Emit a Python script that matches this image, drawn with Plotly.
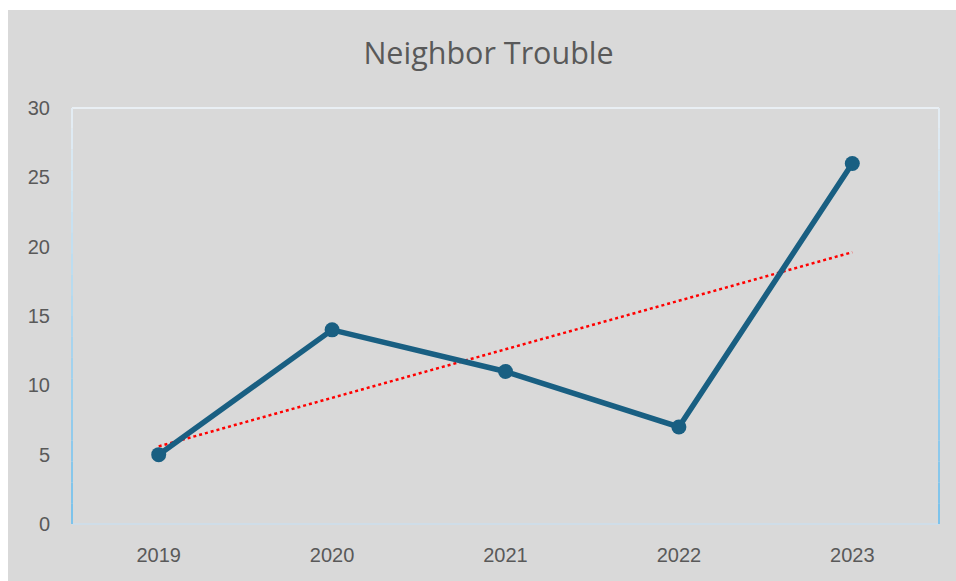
import plotly.graph_objects as go

years = ["2019", "2020", "2021", "2022", "2023"]
values = [5, 14, 11, 7, 26]
y_ticks = [0, 5, 10, 15, 20, 25, 30]

# linear trendline from the data
n = len(values)
xs = list(range(n))
mx = sum(xs) / n
my = sum(values) / n
slope = sum((x - mx) * (y - my) for x, y in zip(xs, values)) / sum((x - mx) ** 2 for x in xs)
icpt = my - slope * mx
trend = [icpt + slope * x for x in xs]

fig = go.Figure()
fig.add_trace(go.Scatter(x=years, y=trend, mode="lines",
                         line=dict(color="#ff0000", width=2.5, dash="dot"),
                         hoverinfo="skip", showlegend=False))
fig.add_trace(go.Scatter(x=years, y=values, mode="lines+markers",
                         line=dict(color="#195f82", width=5.5),
                         marker=dict(size=15, color="#195f82"),
                         showlegend=False))

L, R, T, B = 72, 17, 108, 57
W, H = 956, 581
pw, ph = W - L - R, H - T - B
def px(x):
    return (x - L) / pw
def py(y):
    return (H - B - y) / ph

shapes = [
    dict(type="rect", xref="paper", yref="paper", x0=px(8), x1=px(960), y0=py(600), y1=py(10),
         fillcolor="#d9d9d9", line=dict(width=0), layer="below"),
    dict(type="line", xref="paper", yref="paper", x0=0, x1=1, y0=1, y1=1,
         line=dict(color="#e9eff4", width=2), layer="below"),
    dict(type="line", xref="paper", yref="paper", x0=0, x1=1, y0=0, y1=0,
         line=dict(color="#cfdde8", width=2), layer="below"),
]
# gradient side borders
segs = 20
for i in range(segs):
    t = i / segs
    c0 = (125, 195, 235)
    c1 = (233, 239, 244)
    c = tuple(int(c0[k] + (c1[k] - c0[k]) * t) for k in range(3))
    col = "rgb(%d,%d,%d)" % c
    for xx in (0, 1):
        shapes.append(dict(type="line", xref="paper", yref="paper", x0=xx, x1=xx,
                           y0=i / segs, y1=(i + 1) / segs,
                           line=dict(color=col, width=2), layer="below"))

fig.update_layout(
    width=W, height=H,
    margin=dict(l=L, r=R, t=T, b=B),
    paper_bgcolor="white",
    plot_bgcolor="rgba(0,0,0,0)",
    font=dict(family="Liberation Sans, Arial, sans-serif", color="#595959", size=20),
    title=dict(text="Neighbor Trouble", x=0.511, xanchor="center", y=1 - 53 / H, yanchor="middle",
               font=dict(size=30.5, color="#595959", family="Open Sans, sans-serif")),
    shapes=shapes,
    xaxis=dict(type="category", range=[-0.5, 4.5], showgrid=False, zeroline=False,
               showline=False, ticks="", ticklabelstandoff=17, tickfont=dict(size=20)),
    yaxis=dict(range=[0, 30], tickvals=y_ticks, showgrid=False, zeroline=False,
               showline=False, ticks="", ticklabelstandoff=21, tickfont=dict(size=20)),
)

fig.write_html("out.html")
